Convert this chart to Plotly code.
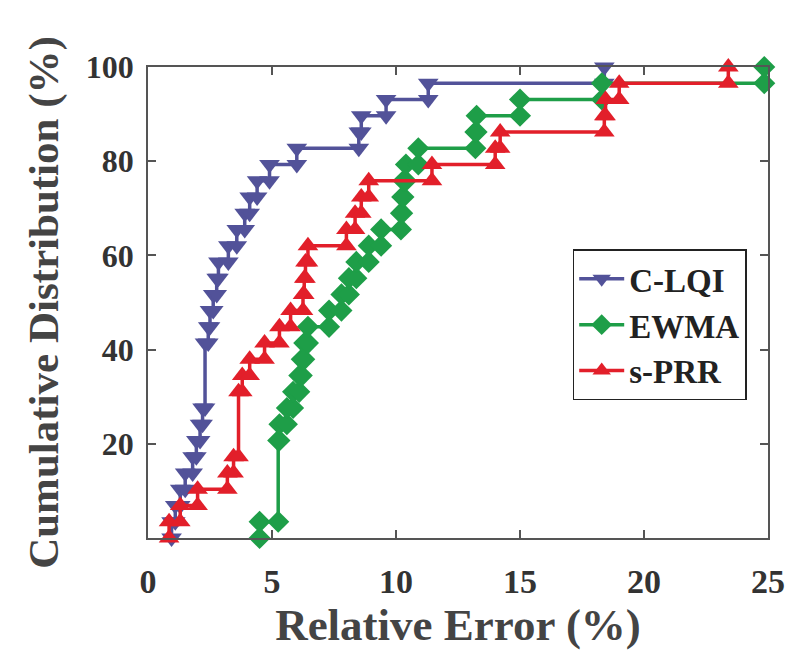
import plotly.graph_objects as go

# Sorted relative-error samples (%) (n = 29 each)
clqi = [0.95, 1.1, 1.3, 1.5, 1.8, 1.95, 2.1, 2.2, 2.3, 2.3, 2.3, 2.3,
        2.43, 2.5, 2.63, 2.77, 2.84, 3.24, 3.58, 3.9, 4.1, 4.4, 4.9,
        6.0, 8.5, 8.6, 9.6, 11.3, 18.4]
ewma = [4.5, 5.25, 5.25, 5.25, 5.25, 5.25, 5.3, 5.6, 5.85, 6.1, 6.2, 6.3,
        6.45, 7.3, 7.8, 8.1, 8.4, 8.9, 9.4, 10.2, 10.25, 10.3, 10.4,
        10.9, 13.2, 13.25, 15.0, 18.3, 24.85]
sprr = [0.85, 1.3, 2.0, 3.2, 3.45, 3.65, 3.65, 3.65, 3.65, 3.8, 4.1, 4.7,
        5.3, 5.75, 6.25, 6.3, 6.35, 6.45, 8.0, 8.35, 8.6, 8.9, 11.45,
        14.0, 14.2, 18.4, 18.45, 19.0, 23.4]

names = ["C-LQI", "EWMA", "s-PRR"]
colors = ["#525299", "#1E9E48", "#E21F2A"]
symbols = ["triangle-down", "diamond", "triangle-up"]
msizes = [18, 17, 18]
xticks = [0, 5, 10, 15, 20, 25]
yticks = [20, 40, 60, 80, 100]


def ecdf_stairs(vals):
    s = sorted(vals)
    n = len(s)
    xs, ys = [], []
    prev = 0.0
    for u in sorted(set(s)):
        c = sum(1 for v in s if v <= u)
        f = 100.0 * c / n
        xs += [u, u]
        ys += [prev, f]
        prev = f
    return xs, ys


fig = go.Figure()
for data, name, col, sym, ms in zip([clqi, ewma, sprr], names, colors, symbols, msizes):
    xs, ys = ecdf_stairs(data)
    fig.add_trace(go.Scatter(
        x=xs, y=ys, mode="lines+markers", name=name,
        line=dict(color=col, width=3.5),
        marker=dict(symbol=sym, size=ms, color=col),
        cliponaxis=False,
    ))

font_family = "Liberation Serif"
fig.update_layout(
    width=797, height=652,
    margin=dict(l=148, r=29, t=67, b=114),
    plot_bgcolor="white", paper_bgcolor="white",
    font=dict(family=font_family, color="#333333"),
    showlegend=True,
    legend=dict(
        x=0.685, y=0.613, xanchor="left", yanchor="top",
        bgcolor="white", bordercolor="#222222", borderwidth=1.5,
        font=dict(family=font_family, size=33, color="#222222", weight="bold"),
        itemwidth=45, tracegroupgap=0,
    ),
    xaxis=dict(
        range=[0, 25], tickvals=xticks, ticktext=[str(t) for t in xticks],
        showgrid=False, zeroline=False,
        showline=True, linecolor="#555555", linewidth=1.5, mirror="allticks",
        ticks="inside", ticklen=8, tickwidth=1.5, tickcolor="#555555",
        ticklabelstandoff=12,
        tickfont=dict(family=font_family, size=34, color="#333333", weight="bold"),
        title=dict(text="Relative Error (%)", standoff=10,
                   font=dict(family=font_family, size=45, color="#444444", weight="bold")),
    ),
    yaxis=dict(
        range=[0, 100], tickvals=yticks, ticktext=[str(t) for t in yticks],
        showgrid=False, zeroline=False,
        showline=True, linecolor="#555555", linewidth=1.5, mirror="allticks",
        ticks="inside", ticklen=8, tickwidth=1.5, tickcolor="#555555",
        ticklabelstandoff=6,
        tickfont=dict(family=font_family, size=32, color="#333333", weight="bold"),
        title=dict(text="Cumulative Distribution (%)", standoff=14,
                   font=dict(family=font_family, size=43, color="#444444", weight="bold")),
    ),
)

fig.write_html("out.html")
